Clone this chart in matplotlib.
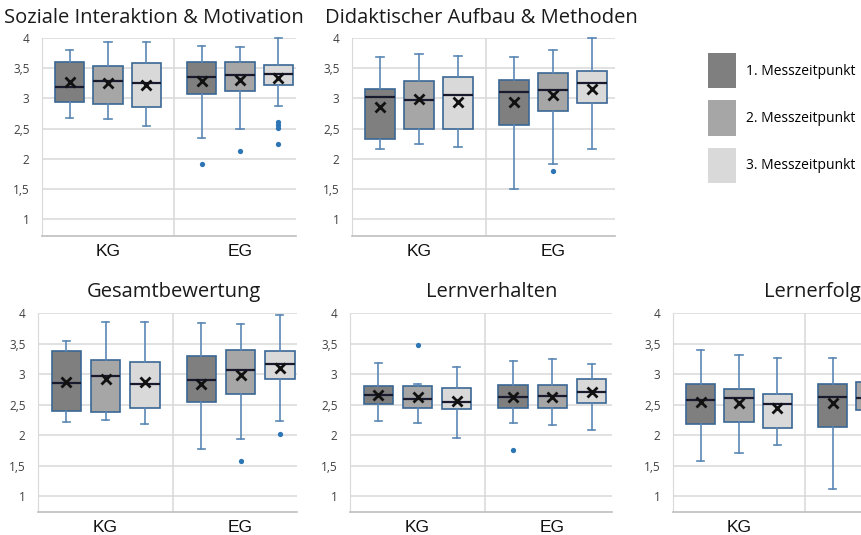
import matplotlib.pyplot as plt
from matplotlib.patches import Patch

W, H = 861, 535

groups = ["KG", "EG"]
times = ["1. Messzeitpunkt", "2. Messzeitpunkt", "3. Messzeitpunkt"]
box_colors = ["#7f7f7f", "#a6a6a6", "#d9d9d9"]

# values per box, order: KG t1, KG t2, KG t3, EG t1, EG t2, EG t3
soz_lo = [2.67, 2.65, 2.54, 2.35, 2.49, 2.87]
soz_q1 = [2.94, 2.90, 2.85, 3.08, 3.12, 3.22]
soz_med = [3.19, 3.29, 3.26, 3.35, 3.39, 3.41]
soz_q3 = [3.60, 3.54, 3.59, 3.60, 3.61, 3.56]
soz_hi = [3.80, 3.93, 3.93, 3.86, 3.85, 4.00]
soz_mean = [3.27, 3.26, 3.22, 3.28, 3.30, 3.33]
soz_out = [[], [], [], [1.91], [2.12], [2.61, 2.56, 2.51, 2.25]]

did_lo = [2.16, 2.25, 2.20, 1.50, 1.92, 2.16]
did_q1 = [2.32, 2.50, 2.49, 2.56, 2.79, 2.92]
did_med = [3.02, 2.97, 3.05, 3.11, 3.14, 3.25]
did_q3 = [3.16, 3.28, 3.35, 3.30, 3.42, 3.46]
did_hi = [3.69, 3.74, 3.70, 3.69, 3.80, 4.00]
did_mean = [2.85, 2.99, 2.94, 2.94, 3.06, 3.15]
did_out = [[], [], [], [], [1.80], []]

ges_lo = [2.22, 2.25, 2.18, 1.78, 1.93, 2.23]
ges_q1 = [2.39, 2.38, 2.44, 2.54, 2.68, 2.92]
ges_med = [2.86, 2.96, 2.83, 2.90, 3.07, 3.17]
ges_q3 = [3.37, 3.23, 3.19, 3.29, 3.40, 3.38]
ges_hi = [3.54, 3.86, 3.85, 3.84, 3.82, 3.96]
ges_mean = [2.87, 2.92, 2.87, 2.84, 2.99, 3.10]
ges_out = [[], [], [], [], [1.58], [2.02]]

lv_lo = [2.23, 2.20, 1.96, 2.20, 2.16, 2.09]
lv_q1 = [2.51, 2.44, 2.42, 2.44, 2.44, 2.53]
lv_med = [2.66, 2.59, 2.55, 2.63, 2.64, 2.71]
lv_q3 = [2.80, 2.80, 2.77, 2.82, 2.82, 2.92]
lv_hi = [3.18, 2.84, 3.11, 3.22, 3.25, 3.17]
lv_mean = [2.66, 2.63, 2.56, 2.62, 2.63, 2.70]
lv_out = [[], [3.48], [], [1.76], [], []]

# Lernerfolg: EG t2 only partly visible, EG t3 cut off in the source
le_lo = [1.58, 1.70, 1.83, 1.12, 1.70]
le_q1 = [2.18, 2.21, 2.11, 2.13, 2.41]
le_med = [2.57, 2.61, 2.51, 2.63, 2.60]
le_q3 = [2.84, 2.75, 2.67, 2.84, 2.87]
le_hi = [3.39, 3.31, 3.26, 3.26, 3.30]
le_mean = [2.54, 2.53, 2.45, 2.52, 2.62]
le_out = [[], [], [], [], []]

yticks = [1, 1.5, 2, 2.5, 3, 3.5, 4]

plt.rcParams["font.family"] = ["Open Sans", "DejaVu Sans"]
fig = plt.figure(figsize=(W / 100, H / 100), dpi=100)


def px_axes(left, right, top, bottom):
    return fig.add_axes([left / W, 1 - bottom / H, (right - left) / W, (bottom - top) / H])


def draw_panel(ax, unit_px, width_px, lo, q1, med, q3, hi, mean, out, ymin, labels=groups):
    stats = []
    positions = []
    colors = []
    for i in range(len(med)):
        g, t = divmod(i, 3)
        stats.append(dict(med=med[i], q1=q1[i], q3=q3[i], whislo=lo[i], whishi=hi[i],
                          mean=mean[i], fliers=out[i]))
        positions.append(g + 0.5 + (t - 1) * 0.29)
        colors.append(box_colors[t])
    arts = ax.bxp(stats, positions=positions, widths=0.22, capwidths=0.055,
                  showmeans=True, patch_artist=True,
                  boxprops=dict(edgecolor="#3a6794", linewidth=1.2),
                  whiskerprops=dict(color="#5b87b5", linewidth=1.2),
                  capprops=dict(color="#5b87b5", linewidth=1.2),
                  medianprops=dict(color="#1a1a2e", linewidth=1.6),
                  meanprops=dict(marker="x", markersize=6.5, markeredgewidth=2,
                                 markeredgecolor="#111111"),
                  flierprops=dict(marker="o", markersize=3.8, markerfacecolor="#2e75b6",
                                  markeredgecolor="none"))
    for box, c in zip(arts["boxes"], colors):
        box.set_facecolor(c)
    for a in arts["caps"] + arts["whiskers"] + arts["means"]:
        a.set_clip_on(False)
    ax.set_xlim(0, width_px / unit_px)
    ax.set_ylim(ymin, 4.0)
    ax.set_yticks(yticks)
    ax.set_yticklabels([f"{v:g}".replace(".", ",") for v in yticks],
                       fontsize=8.5, color="#404040")
    ax.set_xticks([0.5 + k for k in range(len(labels))])
    ax.set_xticklabels(labels, fontsize=12.5, family="Liberation Sans", color="#111111")
    ax.tick_params(length=0, axis="x", pad=6)
    ax.tick_params(length=0, axis="y", pad=9)
    ax.grid(axis="y", color="#d9d9d9", linewidth=1.1)
    ax.axvline(1, color="#d9d9d9", linewidth=1.1, zorder=0)
    ax.set_axisbelow(True)
    for s in ["top", "right"]:
        ax.spines[s].set_visible(False)
    ax.spines["left"].set_color("#d9d9d9")
    ax.spines["bottom"].set_color("#bfbfbf")
    ax.spines["bottom"].set_linewidth(1.2)


ax1 = px_axes(42, 296, 38, 236)
draw_panel(ax1, 132, 254, soz_lo, soz_q1, soz_med, soz_q3, soz_hi, soz_mean, soz_out, 0.72)
ax2 = px_axes(352, 615, 38, 236)
draw_panel(ax2, 134, 263, did_lo, did_q1, did_med, did_q3, did_hi, did_mean, did_out, 0.72)
ax3 = px_axes(38, 297, 313, 512)
draw_panel(ax3, 135, 259, ges_lo, ges_q1, ges_med, ges_q3, ges_hi, ges_mean, ges_out, 0.74)
ax4 = px_axes(350, 612, 313, 512)
draw_panel(ax4, 135, 262, lv_lo, lv_q1, lv_med, lv_q3, lv_hi, lv_mean, lv_out, 0.74)
ax5 = px_axes(673, 928, 313, 512)
# the EG label of this panel lies outside the cropped source picture
draw_panel(ax5, 132, 255, le_lo, le_q1, le_med, le_q3, le_hi, le_mean, le_out, 0.74,
           labels=groups[:1])

title_kw = dict(ha="center", va="center", fontsize=14.5, color="#1a1a1a")
fig.text(154 / W, 1 - 18 / H, "Soziale Interaktion & Motivation", **title_kw)
fig.text(481 / W, 1 - 18 / H, "Didaktischer Aufbau & Methoden", **title_kw)
fig.text(174 / W, 1 - 292 / H, "Gesamtbewertung", **title_kw)
fig.text(492 / W, 1 - 292 / H, "Lernverhalten", **title_kw)
fig.text(812 / W, 1 - 292 / H, "Lernerfolg", **title_kw)

handles = [Patch(facecolor=c, edgecolor="none") for c in box_colors]
fig.legend(handles, times, loc="upper left", bbox_to_anchor=(708 / W, 1 - 53 / H),
           frameon=False, fontsize=10, handlelength=2.0, handleheight=3.55,
           handletextpad=0.72, labelspacing=0.86, borderpad=0, borderaxespad=0)

fig.savefig("out.png", dpi=100)
